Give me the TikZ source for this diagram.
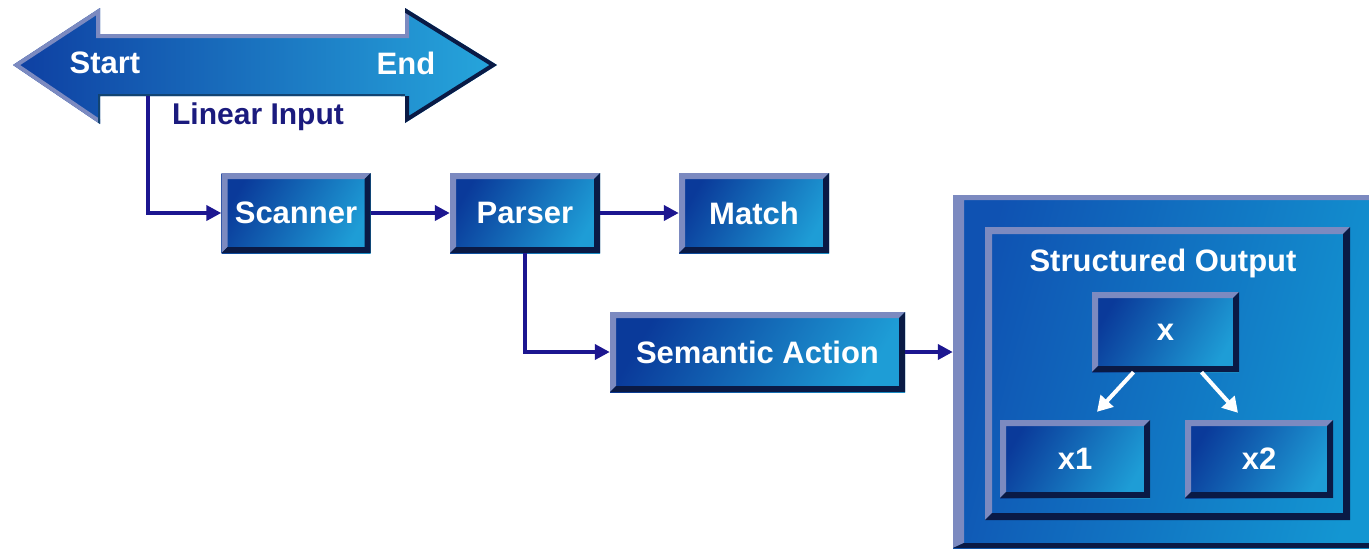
\documentclass[tikz,border=0pt]{standalone}
\usepackage{fontspec}
\setmainfont{Liberation Sans}
\usetikzlibrary{arrows.meta,calc}

\definecolor{pdark}{HTML}{0A3A9A}
\definecolor{plight}{HTML}{1E9DD6}
\definecolor{bevlight}{HTML}{7C8AC0}
\definecolor{bevdark}{HTML}{0A1A45}
\definecolor{wirenavy}{HTML}{1C1690}
\definecolor{labelnavy}{HTML}{1B1B7E}
\definecolor{outerdark}{HTML}{0F52B2}
\definecolor{outerlight}{HTML}{1396D2}
\definecolor{arrowdark}{HTML}{0E3FA2}
\definecolor{arrowlight}{HTML}{26A6DC}

% raised frame: light strips on top/left, dark strips on bottom/right
% #1 = width of the side strips, #2 = height of the top/bottom strips
\newcommand{\panelbevel}[2]{%
  \path (path picture bounding box.north west) coordinate (pbNW)
        (path picture bounding box.north east) coordinate (pbNE)
        (path picture bounding box.south west) coordinate (pbSW)
        (path picture bounding box.south east) coordinate (pbSE);
  \fill[bevlight] (pbNW) -- (pbNE) -- ([shift={(-#1,-#2)}]pbNE)
     -- ([shift={(#1,-#2)}]pbNW) -- ([shift={(#1,#2)}]pbSW) -- (pbSW) -- cycle;
  \fill[bevdark] (pbSE) -- (pbNE) -- ([shift={(-#1,-#2)}]pbNE)
     -- ([shift={(-#1,#2)}]pbSE) -- ([shift={(#1,#2)}]pbSW) -- (pbSW) -- cycle;
}

\newcommand{\boxfont}{\bfseries\fontsize{31}{36}\selectfont}

\tikzset{
  panel/.style={left color=pdark, right color=plight, shading angle=60,
    inner sep=0pt, text=white, font=\boxfont, path picture={\panelbevel{6pt}{6pt}}},
  outerpanel/.style={left color=outerdark, right color=outerlight, shading angle=75,
    inner sep=0pt, path picture={\panelbevel{11pt}{5pt}}},
  frame/.style={inner sep=0pt, path picture={\panelbevel{7pt}{7pt}}},
  flow/.style={draw=wirenavy, line width=4pt, -{Triangle[length=15pt,width=15pt]}},
  treeflow/.style={draw=white, line width=4pt, -{Triangle[length=15pt,width=17pt]}},
}

\begin{document}
\begin{tikzpicture}[x=1pt,y=-1pt]
\useasboundingbox[fill=white] (0,0) rectangle (1369,550);

% double-headed input arrow
\shade[left color=arrowdark, right color=arrowlight]
  (13,65) -- (100,8) -- (100,34) -- (405,34) -- (405,8) -- (497,65)
  -- (405,123) -- (405,96) -- (100,96) -- (100,124) -- cycle;
\begin{scope}
  \clip (13,65) -- (100,8) -- (100,34) -- (405,34) -- (405,8) -- (497,65)
    -- (405,123) -- (405,96) -- (100,96) -- (100,124) -- cycle;
  \draw[bevlight, line width=8pt, line join=miter]
    (100,124) -- (13,65) -- (100,8) -- (100,34) -- (405,34) -- (405,8);
  \draw[bevdark, line width=8pt, line join=miter]
    (405,8) -- (497,65) -- (405,123) -- (405,96);
  \draw[bevdark!70!arrowlight, line width=5pt] (405,96) -- (100,96) -- (100,124);
\end{scope}
\node[text=white, font=\boxfont] (start) at (105,63) {Start};
\node[text=white, font=\boxfont] (end) at (406,63) {End};
\node[text=labelnavy, font=\bfseries\fontsize{30}{36}\selectfont] (lin) at (258,117) {Linear Input};
\coordinate (tap) at (148,96);

% pipeline stages
\node[panel, minimum width=149pt, minimum height=80pt] (scanner) at (296,213) {Scanner};
\node[panel, minimum width=150pt, minimum height=80pt] (parser) at (525,213) {Parser};
\node[panel, minimum width=150pt, minimum height=80pt] (match) at (754,213) {Match};
\node[panel, minimum width=295pt, minimum height=80pt] (semantic) at (757.5,352) {Semantic Action};

% structured output (runs past the right border)
\node[outerpanel, minimum width=434pt, minimum height=353pt] (outer) at (1170,371.5) {};
\node[frame, minimum width=365pt, minimum height=293pt] (inner) at (1167.5,373.5) {};
\node[text=white, font=\boxfont] (sotitle) at (1163,263) {Structured Output};
\node[panel, minimum width=147pt, minimum height=80pt] (x) at (1165.5,332) {x};
\node[panel, minimum width=150pt, minimum height=78pt] (x1) at (1075,459) {x1};
\node[panel, minimum width=148pt, minimum height=78pt] (x2) at (1259,459) {x2};

% connectors
\draw[flow] (tap) |- (scanner.west);
\draw[flow] (scanner.east) -- (parser.west);
\draw[flow] (parser.east) -- (match.west);
\draw[flow] (parser.south) |- (semantic.west);
\draw[flow] (semantic.east) -- (semantic.east -| outer.west);
\draw[treeflow] ([xshift=-32pt]x.south) -- ([xshift=22pt,yshift=8pt]x1.north);
\draw[treeflow] ([xshift=36pt]x.south) -- ([xshift=-21pt,yshift=7pt]x2.north);
\end{tikzpicture}
\end{document}
